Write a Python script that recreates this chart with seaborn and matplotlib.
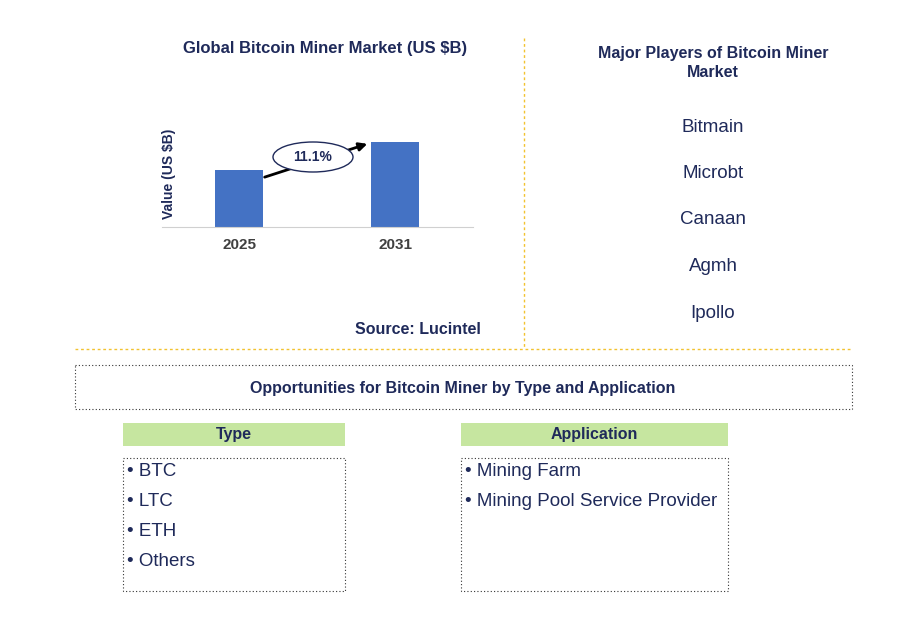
import matplotlib
matplotlib.use("Agg")
import matplotlib.pyplot as plt
import seaborn as sns
import pandas as pd
from matplotlib.patches import Rectangle, Ellipse

years = ["2025", "2031"]
values = [4.2, 6.3]
cagr = "11.1%"
players = ["Bitmain", "Microbt", "Canaan", "Agmh", "Ipollo"]
types = ["BTC", "LTC", "ETH", "Others"]
apps = ["Mining Farm", "Mining Pool Service Provider"]

plt.rcParams["font.family"] = "Liberation Sans"
navy = "#1F2A5A"
gold = "#F2C230"
W, H = 917, 632
fig = plt.figure(figsize=(W/100, H/100), dpi=100)

# bar chart
ax = fig.add_axes([162/W, 1-227/H, (473-162)/W, 107/H])
df = pd.DataFrame({"year": years, "value": values})
sns.barplot(data=df, x="year", y="value", color="#4472C4", width=0.31, ax=ax, saturation=1)
ax.set_xlim(-0.494, 1.5)
ax.set_ylim(0, 6.3*107/85)
ax.set_yticks([])
ax.set_xlabel("")
ax.set_ylabel("Value (US $B)", fontsize=10, fontweight="bold", color=navy, labelpad=-10)
for s in ["top", "right", "left"]:
    ax.spines[s].set_visible(False)
ax.spines["bottom"].set_color("#D0D0D0")
ax.tick_params(axis="x", length=0, pad=8, labelsize=11, labelcolor="#404040")
for t in ax.get_xticklabels():
    t.set_fontweight("bold")

# overlay in pixel coords
ov = fig.add_axes([0, 0, 1, 1])
ov.set_zorder(10)
ov.patch.set_alpha(0)
ov.set_xlim(0, W); ov.set_ylim(H, 0); ov.axis("off")

ov.annotate("", xy=(370, 143), xytext=(262, 178),
            arrowprops=dict(arrowstyle="-|>", color="black", lw=2, mutation_scale=12))
ov.add_patch(Ellipse((313, 157), 80, 30, facecolor="white", edgecolor=navy, lw=1, zorder=5))
ov.text(313, 157, cagr, ha="center", va="center", fontsize=10, fontweight="bold", color=navy, zorder=6)

ov.text(325, 48, "Global Bitcoin Miner Market (US $B)", ha="center", va="center",
        fontsize=12, fontweight="bold", color=navy)
ov.text(418, 329, "Source: Lucintel", ha="center", va="center",
        fontsize=11.5, fontweight="bold", color=navy)

ov.plot([524, 524], [38, 348], ls=(0, (2, 2)), color=gold, lw=1)
ov.plot([75, 852], [349, 349], ls=(0, (2, 2)), color=gold, lw=1)

ov.text(713, 63, "Major Players of Bitcoin Miner\nMarket", ha="center", va="center",
        fontsize=11.5, fontweight="bold", color=navy, linespacing=1.3)
for i, p in enumerate(players):
    ov.text(713, 127 + i*46.5, p, ha="center", va="center", fontsize=13.5, color=navy)

ov.add_patch(Rectangle((75, 365), 777, 44, fill=False, ls=(0, (1, 2)), ec="#333333", lw=0.8))
ov.text(463, 388, "Opportunities for Bitcoin Miner by Type and Application", ha="center",
        va="center", fontsize=11.5, fontweight="bold", color=navy)

for x0, x1, title, items in [(123, 345, "Type", types), (461, 728, "Application", apps)]:
    ov.add_patch(Rectangle((x0, 423), x1-x0, 23, fc="#C6E6A0", ec="none"))
    ov.text((x0+x1)/2, 435, title, ha="center", va="center", fontsize=11.5,
            fontweight="bold", color=navy)
    ov.add_patch(Rectangle((x0, 458), x1-x0, 133, fill=False, ls=(0, (1, 2)), ec="#333333", lw=0.8))
    for i, it in enumerate(items):
        ov.text(x0+4, 472 + i*30, "\u2022 " + it, ha="left", va="center", fontsize=13.5, color=navy)

fig.savefig("out.png", dpi=100)
